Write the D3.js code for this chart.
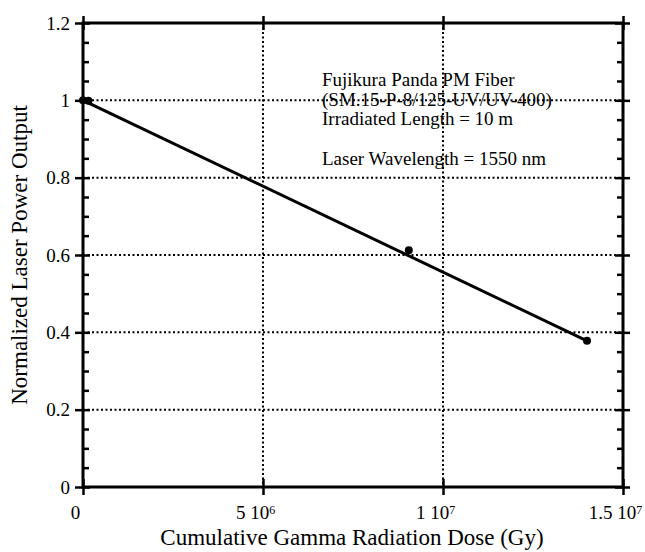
<html>
<head>
<style>
  body { margin: 0; background: #fff; }
  text { font-family: "Liberation Serif", "Times New Roman", serif; fill: #000; }
</style>
</head>
<body>
<div id="chart"></div>
<script src="https://cdnjs.cloudflare.com/ajax/libs/d3/7.8.5/d3.min.js"></script>
<script>
  const width = 645;
  const height = 552;

  // measured points (dose in Gy, normalized output)
  const dose = [0, 1.5e5, 9.05e6, 1.4e7];
  const power = [1.0, 0.999, 0.612, 0.378];
  // linear fit drawn through the data
  const fitDose = [0, 1.4e7];
  const fitPower = [1.0, 0.378];

  const xTicks = [0, 5e6, 1e7, 1.5e7];
  const xTickLabels = [['0', ''], ['5 10', '6'], ['1 10', '7'], ['1.5 10', '7']];
  const yTicks = [0, 0.2, 0.4, 0.6, 0.8, 1.0, 1.2];
  const yTickLabels = ['0', '0.2', '0.4', '0.6', '0.8', '1', '1.2'];
  const yMinor = d3.range(0, 1.2001, 0.05).filter(v => Math.abs(v * 5 - Math.round(v * 5)) > 1e-6);

  const note = ['Fujikura Panda PM Fiber', '(SM.15-P-8/125-UV/UV-400)', 'Irradiated Length = 10 m', '', 'Laser Wavelength = 1550 nm'];

  const mLeft = 83, mRight = 623, mTop = 23, mBottom = 487;

  const x = d3.scaleLinear().domain([0, 1.5e7]).range([mLeft, mRight]);
  const y = d3.scaleLinear().domain([0, 1.2]).range([mBottom, mTop]);

  const svg = d3.select('#chart').append('svg')
    .attr('width', width).attr('height', height);

  // dotted grid
  svg.append('g').selectAll('line')
    .data(yTicks.slice(1))
    .join('line')
    .attr('x1', mLeft).attr('x2', mRight)
    .attr('y1', d => y(d)).attr('y2', d => y(d))
    .attr('stroke', '#000').attr('stroke-width', 2).attr('stroke-dasharray', '2,2.5');
  svg.append('g').selectAll('line')
    .data(xTicks.slice(1, 3))
    .join('line')
    .attr('x1', d => x(d)).attr('x2', d => x(d))
    .attr('y1', mTop).attr('y2', mBottom)
    .attr('stroke', '#000').attr('stroke-width', 2).attr('stroke-dasharray', '2,2.5');

  // frame
  svg.append('rect')
    .attr('x', mLeft).attr('y', mTop)
    .attr('width', mRight - mLeft).attr('height', mBottom - mTop)
    .attr('fill', 'none').attr('stroke', '#000').attr('stroke-width', 3);

  // left axis
  const yAxis = svg.append('g').attr('transform', `translate(${mLeft},0)`)
    .call(d3.axisLeft(y).tickValues(yTicks).tickSize(8).tickPadding(5)
      .tickFormat((d, i) => yTickLabels[i]));
  yAxis.select('.domain').remove();
  yAxis.selectAll('.tick line').attr('x1', 7).attr('stroke-width', 2.5);
  yAxis.selectAll('.tick text').style('font-size', '19px');

  svg.append('g').attr('transform', `translate(${mLeft},0)`)
    .call(d3.axisRight(y).tickValues(yMinor).tickSize(6).tickFormat(''))
    .call(g => g.select('.domain').remove())
    .selectAll('.tick line').attr('stroke-width', 2.5);

  // right axis
  const yAxisR = svg.append('g').attr('transform', `translate(${mRight},0)`)
    .call(d3.axisRight(y).tickValues(yTicks).tickSize(7).tickFormat(''));
  yAxisR.select('.domain').remove();
  yAxisR.selectAll('.tick line').attr('x1', -8).attr('stroke-width', 2.5);
  svg.append('g').attr('transform', `translate(${mRight},0)`)
    .call(d3.axisLeft(y).tickValues(yMinor).tickSize(6).tickFormat(''))
    .call(g => g.select('.domain').remove())
    .selectAll('.tick line').attr('stroke-width', 2.5);

  // bottom axis
  const xAxis = svg.append('g').attr('transform', `translate(0,${mBottom})`)
    .call(d3.axisBottom(x).tickValues(xTicks).tickSize(8).tickPadding(11).tickFormat(''));
  xAxis.select('.domain').remove();
  xAxis.selectAll('.tick line').attr('y1', -8).attr('stroke-width', 2.5);
  xAxis.selectAll('.tick text')
    .style('font-size', '19px')
    .attr('dx', -8)
    .each(function (d, i) {
      const t = d3.select(this);
      t.append('tspan').text(xTickLabels[i][0]);
      t.append('tspan').attr('dy', '-0.45em').style('font-size', '12px').text(xTickLabels[i][1]);
    });

  // top axis ticks
  svg.append('g').attr('transform', `translate(0,${mTop})`)
    .call(d3.axisTop(x).tickValues(xTicks).tickSize(7).tickFormat(''))
    .call(g => g.select('.domain').remove())
    .selectAll('.tick line').attr('y1', 7).attr('stroke-width', 2.5);

  // fit line
  svg.append('path')
    .datum(fitDose.map((d, i) => [d, fitPower[i]]))
    .attr('d', d3.line().x(d => x(d[0])).y(d => y(d[1])))
    .attr('fill', 'none').attr('stroke', '#000').attr('stroke-width', 3);

  // data points
  svg.append('g').selectAll('circle')
    .data(dose.map((d, i) => [d, power[i]]))
    .join('circle')
    .attr('cx', d => x(d[0])).attr('cy', d => y(d[1]))
    .attr('r', 4).attr('fill', '#000');

  // annotation
  svg.append('g').selectAll('text')
    .data(note)
    .join('text')
    .attr('x', 322)
    .attr('y', (d, i) => 86 + i * 19.7)
    .style('font-size', '19px')
    .text(d => d);

  // axis titles
  svg.append('text')
    .attr('x', 352).attr('y', 545)
    .attr('text-anchor', 'middle')
    .style('font-size', '23px')
    .text('Cumulative Gamma Radiation Dose (Gy)');

  svg.append('text')
    .attr('transform', `translate(27,255) rotate(-90)`)
    .attr('text-anchor', 'middle')
    .style('font-size', '23px')
    .text('Normalized Laser Power Output');
</script>
</body>
</html>
